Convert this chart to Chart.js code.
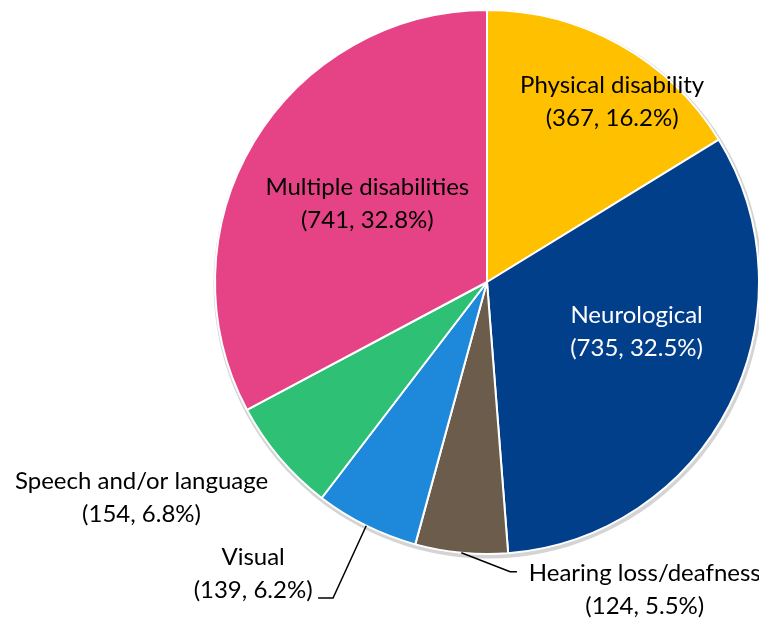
<!DOCTYPE html>
<html>
<head>
<meta charset="utf-8">
<style>
  html, body { margin: 0; padding: 0; background: #fff; }
  #wrap { width: 759px; height: 621px; }
</style>
<script src="https://cdn.jsdelivr.net/npm/chart.js@4/dist/chart.umd.min.js"></script>
</head>
<body>
<div id="wrap"><canvas id="pie" width="759" height="621"></canvas></div>
<script>
const categories = ['Physical disability', 'Neurological', 'Hearing loss/deafness', 'Visual', 'Speech and/or language', 'Multiple disabilities'];
const counts = [367, 735, 124, 139, 154, 741];
const percents = ['16.2%', '32.5%', '5.5%', '6.2%', '6.8%', '32.8%'];
const colors = ['#FFC000', '#023F8B', '#6B5C4B', '#1E88DA', '#2EC074', '#E64386'];

// label placement in radius units from the pie centre (x, y of text block centre)
const labelSpots = [
  { x: 0.46, y: -0.665, color: '#000' },
  { x: 0.55, y: 0.18, color: '#fff' },
  { x: 0.58, y: 1.13, color: '#000', leader: { ex: 0.085, ey: 1.065, tx: 0.11 } },
  { x: -0.86, y: 1.07, color: '#000', leader: { ex: -0.566, ey: 1.162, tx: -0.621 } },
  { x: -1.27, y: 0.79, color: '#000' },
  { x: -0.44, y: -0.29, color: '#000' }
];

const pieLabels = {
  id: 'pieLabels',
  beforeDatasetsDraw(chart) {
    const arc = chart.getDatasetMeta(0).data[0];
    const { x, y, outerRadius } = arc;
    const ctx = chart.ctx;
    ctx.save();
    ctx.fillStyle = '#d4d4d4';
    ctx.beginPath();
    ctx.arc(x + 1, y + 2, outerRadius + 2.5, 0, Math.PI * 2);
    ctx.fill();
    ctx.restore();
  },
  afterDatasetsDraw(chart) {
    const meta = chart.getDatasetMeta(0);
    const ctx = chart.ctx;
    ctx.save();
    ctx.font = '24px Lato';
    ctx.textAlign = 'center';
    ctx.textBaseline = 'middle';
    meta.data.forEach((a, i) => {
      const r = a.outerRadius;
      const spot = labelSpots[i];
      const cx = a.x + spot.x * r;
      const cy = a.y + spot.y * r;
      if (spot.leader) {
        const mid = (a.startAngle + a.endAngle) / 2;
        const px = a.x + Math.cos(mid) * r;
        const py = a.y + Math.sin(mid) * r;
        ctx.strokeStyle = '#000';
        ctx.lineWidth = 1.5;
        ctx.beginPath();
        ctx.moveTo(px, py);
        ctx.lineTo(a.x + spot.leader.ex * r, a.y + spot.leader.ey * r);
        ctx.lineTo(a.x + spot.leader.tx * r, a.y + spot.leader.ey * r);
        ctx.stroke();
      }
      ctx.fillStyle = spot.color;
      ctx.fillText(categories[i], cx, cy - 16);
      ctx.fillText('(' + counts[i] + ', ' + percents[i] + ')', cx, cy + 17);
    });
    ctx.restore();
  }
};

new Chart(document.getElementById('pie').getContext('2d'), {
  type: 'pie',
  data: {
    labels: categories,
    datasets: [{
      data: counts,
      backgroundColor: colors,
      borderColor: '#fff',
      borderWidth: 2
    }]
  },
  options: {
    responsive: false,
    animation: false,
    radius: 272,
    layout: { padding: { left: 215, top: 10, right: 0, bottom: 67 } },
    plugins: { legend: { display: false }, tooltip: { enabled: false } }
  },
  plugins: [pieLabels]
});
</script>
</body>
</html>
